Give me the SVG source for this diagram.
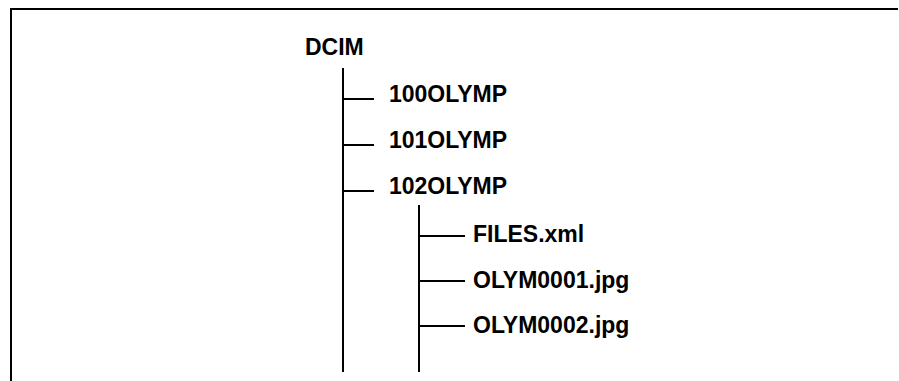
<svg xmlns="http://www.w3.org/2000/svg" width="899" height="381" viewBox="0 0 899 381">
<style>
.t{font-family:"Liberation Sans",Arial,sans-serif;font-weight:bold;font-size:23px;fill:#000}
.l{stroke:#000;stroke-width:2;fill:none}
</style>
<rect width="899" height="381" fill="#fff"/>
<g id="frame"><path class="l" d="M11 381V9H898"/></g>
<g id="connectors">
<path class="l" d="M343 68V372M343 99H374M343 145H374M343 191H374"/>
<path class="l" d="M419 205V372M419 236H465M419 281H465M419 326H465"/>
</g>
<g id="dcim"><text class="t" x="305" y="55">DCIM</text></g>
<g id="n100"><text class="t" x="389" y="102">100OLYMP</text></g>
<g id="n101"><text class="t" x="389" y="148">101OLYMP</text></g>
<g id="n102"><text class="t" x="389" y="194">102OLYMP</text></g>
<g id="files"><text class="t" x="473" y="242">FILES.xml</text></g>
<g id="olym1"><text class="t" x="473" y="288">OLYM0001.jpg</text></g>
<g id="olym2"><text class="t" x="473" y="333">OLYM0002.jpg</text></g>
</svg>
